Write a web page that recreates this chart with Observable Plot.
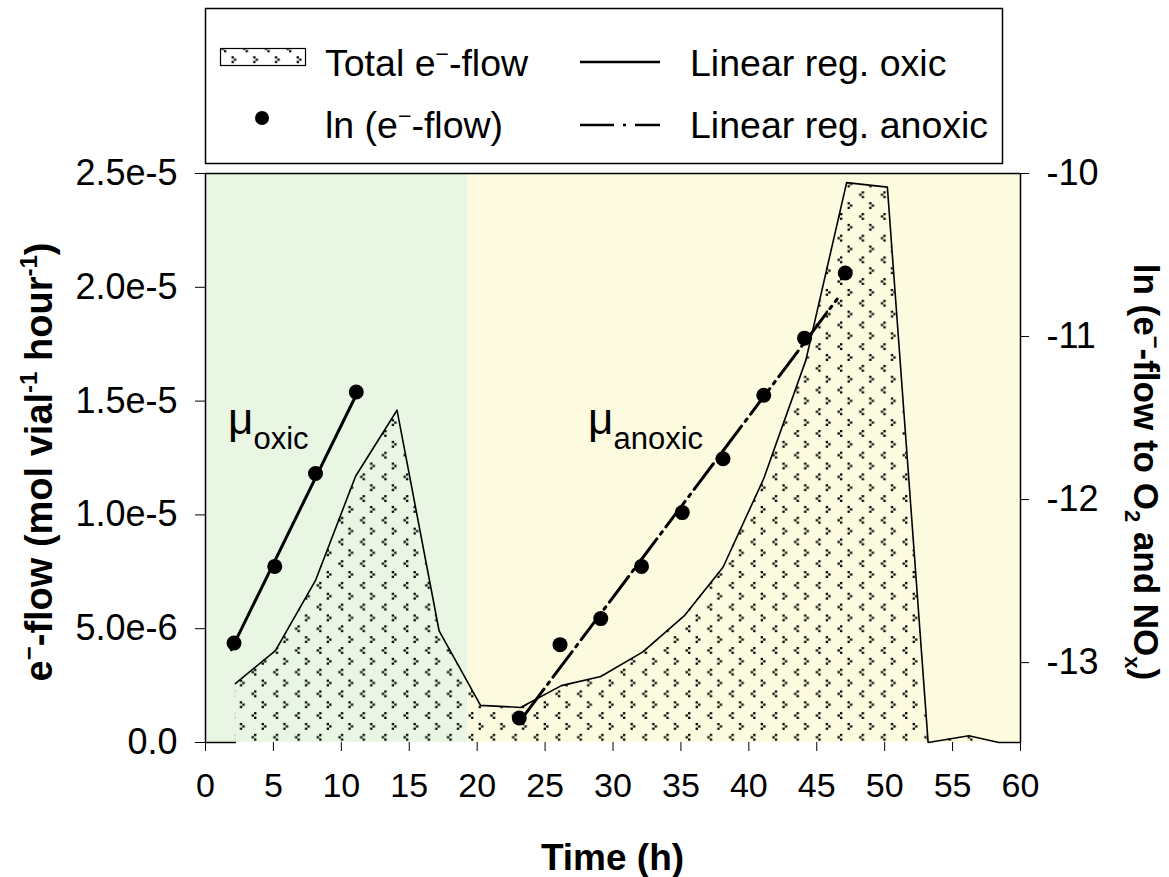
<!DOCTYPE html>
<html>
<head>
<meta charset="utf-8">
<script src="https://cdn.jsdelivr.net/npm/d3@7"></script>
<script src="https://cdn.jsdelivr.net/npm/@observablehq/plot@0.6"></script>
<style>
  body { margin: 0; background: #fff; }
  #wrap { position: relative; width: 1169px; height: 877px; font-family: Arial, "Liberation Sans", sans-serif; }
  #wrap svg { position: absolute; left: 0; top: 0; }
</style>
</head>
<body>
<div id="wrap"></div>
<script>
// ---- data ----
const flowTime = [2.2, 5.15, 8.1, 11.05, 14.1, 17.2, 20.25, 23.2, 26.2, 29.1, 32.2, 35.3, 38.1, 41.1, 44.2, 47.2, 50.2, 53.2, 56.2, 58.4, 60];
const flowValue = [2.59e-6, 4.04e-6, 7.12e-6, 11.7e-6, 14.6e-6, 4.9e-6, 1.63e-6, 1.54e-6, 2.5e-6, 2.9e-6, 3.98e-6, 5.6e-6, 7.7e-6, 11.6e-6, 16.8e-6, 24.6e-6, 24.4e-6, 0, 0.3e-6, 0, 0];
const baseTime = [0, 2.2];
const baseValue = [0, 0];
const lnOxicTime = [2.1, 5.1, 8.1, 11.1];
const lnOxicValue = [-12.88, -12.41, -11.84, -11.34];
const lnAnoxTime = [23.1, 26.1, 29.1, 32.1, 35.1, 38.1, 41.1, 44.1, 47.1];
const lnAnoxValue = [-13.34, -12.89, -12.73, -12.41, -12.08, -11.75, -11.36, -11.01, -10.61];
const regOxicTime = [1.9, 11.2];
const regOxicValue = [-12.92, -11.34];
const regAnoxTime = [23.5, 46.5];
const regAnoxValue = [-13.32, -10.77];
const phaseStart = [0, 19.3];
const phaseEnd = [19.3, 60];
const phaseColor = ["#e9f6e4", "#fcfbe0"];
const xTicks = [0, 5, 10, 15, 20, 25, 30, 35, 40, 45, 50, 55, 60];
const leftTicks = [0, 5e-6, 1e-5, 1.5e-5, 2e-5, 2.5e-5];
const leftTickLabels = ["0.0", "5.0e-6", "1.0e-5", "1.5e-5", "2.0e-5", "2.5e-5"];
const rightTicks = [-13, -12, -11, -10];
const yMax = 2.5e-5;
const lnMin = -13.49, lnMax = -10;

// map ln values onto the left y scale (secondary axis)
const lnToY = v => (v - lnMin) / (lnMax - lnMin) * yMax;
const yToLn = y => lnMin + y / yMax * (lnMax - lnMin);

const flow = flowTime.map((t, i) => ({t, v: flowValue[i]}));
const base = baseTime.map((t, i) => ({t, v: baseValue[i]}));
const lnOx = lnOxicTime.map((t, i) => ({t, v: lnToY(lnOxicValue[i])}));
const lnAn = lnAnoxTime.map((t, i) => ({t, v: lnToY(lnAnoxValue[i])}));
const regOx = regOxicTime.map((t, i) => ({t, v: lnToY(regOxicValue[i])}));
const regAn = regAnoxTime.map((t, i) => ({t, v: lnToY(regAnoxValue[i])}));
const phases = phaseStart.map((s, i) => ({x1: s, x2: phaseEnd[i], fill: phaseColor[i]}));

const font = 'Arial, "Liberation Sans", sans-serif';

const chart = Plot.plot({
  width: 1169,
  height: 877,
  marginLeft: 205,
  marginRight: 149,
  marginTop: 173,
  marginBottom: 135,
  style: {fontFamily: font, background: "transparent", overflow: "visible"},
  x: {domain: [0, 60]},
  y: {domain: [0, yMax]},
  marks: [
    Plot.rectY(phases, {x1: "x1", x2: "x2", y1: 0, y2: yMax, fill: d => d.fill}),
    Plot.areaY(flow, {x: "t", y: "v", fill: "url(#dots)"}),
    Plot.lineY(flow, {x: "t", y: "v", stroke: "black", strokeWidth: 1.6}),
    Plot.lineY(base, {x: "t", y: "v", stroke: "black", strokeWidth: 1.6}),
    Plot.ruleX([0, 60], {y1: 0, y2: yMax, stroke: "black", strokeWidth: 1.5}),
    Plot.ruleY([yMax], {x1: 0, x2: 60, stroke: "black", strokeWidth: 1.5}),
    Plot.line(regOx, {x: "t", y: "v", stroke: "black", strokeWidth: 3}),
    Plot.line(regAn, {x: "t", y: "v", stroke: "black", strokeWidth: 3, strokeDasharray: "32,6,3,6"}),
    Plot.dot(lnOx, {x: "t", y: "v", r: 7.5, fill: "black"}),
    Plot.dot(lnAn, {x: "t", y: "v", r: 7.5, fill: "black"}),
    Plot.axisX({ticks: xTicks, tickSize: 9, tickPadding: 21, fontSize: 34, label: null, tickFormat: d => String(d)}),
    Plot.axisY({ticks: leftTicks, tickSize: 10, tickPadding: 18, fontSize: 36, label: null,
      tickFormat: d => leftTickLabels[leftTicks.indexOf(d)]}),
    Plot.axisY({anchor: "right", ticks: rightTicks.map(lnToY), tickSize: 8, tickPadding: 18, fontSize: 36, label: null,
      tickFormat: d => String(Math.round(yToLn(d)))})
  ]
});

document.getElementById("wrap").appendChild(chart);

const svg = d3.select(chart);
const xs = chart.scale("x"), ys = chart.scale("y");

// dotted pattern
function addPattern(sel, id, ox, oy) {
  const defs = sel.insert("defs", ":first-child");
  const p = defs.append("pattern").attr("id", id).attr("patternUnits", "userSpaceOnUse")
    .attr("width", 21.7).attr("height", 21.7).attr("x", ox).attr("y", oy);
  const s = 2.3;
  // "<" glyph
  [[4, 0], [1.5, 2.3], [4, 4.6]].forEach(([x, y]) => p.append("rect").attr("x", x).attr("y", y).attr("width", s).attr("height", s).attr("fill", "black"));
  // ">" glyph
  [[11.5, 10.85], [14, 13.15], [11.5, 15.45]].forEach(([x, y]) => p.append("rect").attr("x", x).attr("y", y).attr("width", s).attr("height", s).attr("fill", "black"));
}
addPattern(svg, "dots", 11.4, 17.7);

// axis titles
const lt = svg.append("text").attr("transform", "translate(52,462) rotate(-90)")
  .attr("text-anchor", "middle").style("font", `bold 38px ${font}`).attr("fill", "black");
lt.append("tspan").text("e");
lt.append("tspan").attr("dy", -15).style("font-size", "24px").text("−");
lt.append("tspan").attr("dy", 15).text("-flow (mol vial");
lt.append("tspan").attr("dy", -15).style("font-size", "24px").text("-1");
lt.append("tspan").attr("dy", 15).text(" hour");
lt.append("tspan").attr("dy", -15).style("font-size", "24px").text("-1");
lt.append("tspan").attr("dy", 15).text(")");

const rt = svg.append("text").attr("transform", "translate(1134,472) rotate(90)")
  .attr("text-anchor", "middle").style("font", `bold 35px ${font}`).attr("fill", "black");
rt.append("tspan").text("ln (e");
rt.append("tspan").attr("dy", -14).style("font-size", "22px").text("−");
rt.append("tspan").attr("dy", 14).text("-flow to O");
rt.append("tspan").attr("dy", 9).style("font-size", "22px").text("2");
rt.append("tspan").attr("dy", -9).text(" and NO");
rt.append("tspan").attr("dy", 9).style("font-size", "22px").text("x");
rt.append("tspan").attr("dy", -9).text(")");

svg.append("text").attr("x", (xs.apply(0) + xs.apply(60)) / 2).attr("y", 870)
  .attr("text-anchor", "middle").style("font", `bold 37px ${font}`).text("Time (h)");

// mu annotations
function mu(t, lnv, sub) {
  const g = svg.append("text").attr("x", xs.apply(t)).attr("y", ys.apply(lnToY(lnv)))
    .attr("text-anchor", "start").style("font", `44px ${font}`).attr("fill", "black");
  g.append("tspan").text("μ");
  g.append("tspan").attr("dy", 15).style("font-size", "31px").text(sub);
}
mu(1.7, -11.6, "oxic");
mu(28.2, -11.6, "anoxic");

// legend
const leg = d3.select("#wrap").append("svg").attr("width", 1169).attr("height", 170)
  .style("left", 0).style("top", 0);
addPattern(leg, "dots2", 3, 2);
leg.append("rect").attr("x", 205.5).attr("y", 8.5).attr("width", 797).attr("height", 155)
  .attr("fill", "white").attr("stroke", "black").attr("stroke-width", 1.5);
leg.append("rect").attr("x", 220.5).attr("y", 48.5).attr("width", 85).attr("height", 17)
  .attr("fill", "url(#dots2)").attr("stroke", "black").attr("stroke-width", 1.2);
leg.append("circle").attr("cx", 262).attr("cy", 118).attr("r", 7).attr("fill", "black");
leg.append("line").attr("x1", 580).attr("x2", 660).attr("y1", 62).attr("y2", 62).attr("stroke", "black").attr("stroke-width", 2.5);
leg.append("line").attr("x1", 580).attr("x2", 660).attr("y1", 125).attr("y2", 125).attr("stroke", "black").attr("stroke-width", 2.5).attr("stroke-dasharray", "34,9,3,9");
function legText(x, y, parts) {
  const t = leg.append("text").attr("x", x).attr("y", y).style("font", `37.5px ${font}`).attr("fill", "black");
  parts.forEach(p => {
    const s = t.append("tspan").text(p.t);
    if (p.sup) s.attr("dy", -14).style("font-size", "23px");
    if (p.back) s.attr("dy", 14);
  });
}
legText(325, 76, [{t: "Total e"}, {t: "−", sup: true}, {t: "-flow", back: true}]);
legText(325, 138, [{t: "ln (e"}, {t: "−", sup: true}, {t: "-flow)", back: true}]);
legText(690, 76, [{t: "Linear reg. oxic"}]);
legText(690, 138, [{t: "Linear reg. anoxic"}]);
</script>
</body>
</html>
